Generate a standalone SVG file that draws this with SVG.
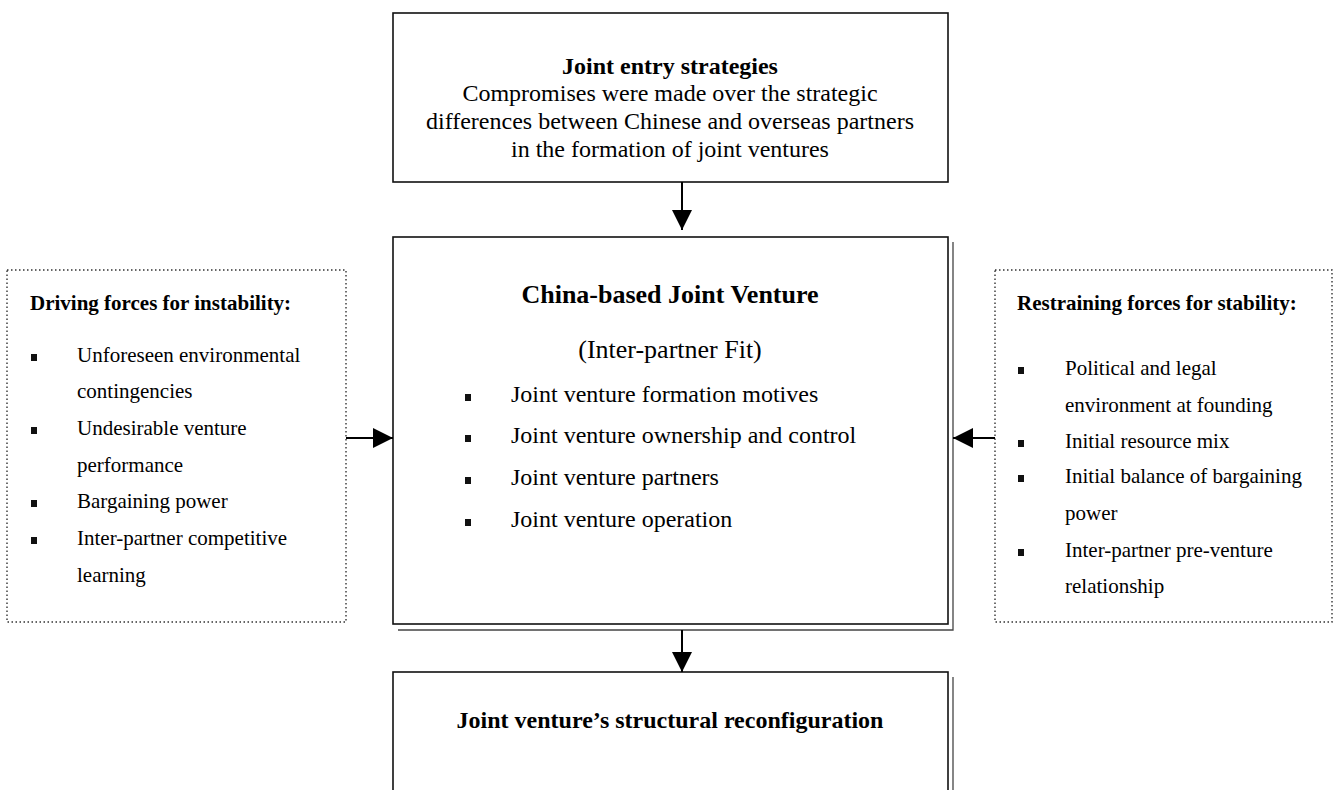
<svg xmlns="http://www.w3.org/2000/svg" width="1340" height="790" viewBox="0 0 1340 790">
<style>
text{font-family:"Liberation Serif","Times New Roman",serif;fill:#000}
.b{font-weight:bold}
.box{fill:#fff;stroke:#111;stroke-width:1.6}
.shadow{fill:none;stroke:#444;stroke-width:1.3}
.dot{fill:#fff;stroke:#333;stroke-width:1.4;stroke-dasharray:1.5 2.5}
.conn{fill:none;stroke:#000;stroke-width:2}
.bul{fill:#111}
</style>
<defs>
<marker id="ah" viewBox="0 0 20 20" refX="20" refY="10" markerWidth="20" markerHeight="20" markerUnits="userSpaceOnUse" orient="auto">
<path d="M0,0 L20,10 L0,20 Z" fill="#000"/>
</marker>
</defs>
<rect width="1340" height="790" fill="#fff"/>

<g id="top-box">
<rect class="box" x="393" y="13" width="555" height="169"/>
<text class="b" x="670" y="74" font-size="24" text-anchor="middle">Joint entry strategies</text>
<text x="670" y="101" font-size="24" text-anchor="middle">Compromises were made over the strategic</text>
<text x="670" y="129" font-size="24" text-anchor="middle">differences between Chinese and overseas partners</text>
<text x="670" y="157" font-size="24" text-anchor="middle">in the formation of joint ventures</text>
</g>

<g id="middle-box">
<path class="shadow" d="M398,630 H953 V242"/>
<rect class="box" x="393" y="237" width="555" height="387"/>
<text class="b" x="670" y="303" font-size="26" text-anchor="middle">China-based Joint Venture</text>
<text x="670" y="358" font-size="26" text-anchor="middle">(Inter-partner Fit)</text>
<rect class="bul" x="465" y="394" width="6" height="7"/>
<text x="511" y="402" font-size="24">Joint venture formation motives</text>
<rect class="bul" x="465" y="435" width="6" height="7"/>
<text x="511" y="443" font-size="24">Joint venture ownership and control</text>
<rect class="bul" x="465" y="477" width="6" height="7"/>
<text x="511" y="485" font-size="24">Joint venture partners</text>
<rect class="bul" x="465" y="519" width="6" height="7"/>
<text x="511" y="527" font-size="24">Joint venture operation</text>
</g>

<g id="left-box">
<rect class="dot" x="7" y="270" width="339" height="352"/>
<text class="b" x="30" y="310" font-size="21">Driving forces for instability:</text>
<rect class="bul" x="31" y="354" width="6" height="7"/>
<text x="77" y="362" font-size="21">Unforeseen environmental</text>
<text x="77" y="398" font-size="21">contingencies</text>
<rect class="bul" x="31" y="427" width="6" height="7"/>
<text x="77" y="435" font-size="21">Undesirable venture</text>
<text x="77" y="472" font-size="21">performance</text>
<rect class="bul" x="31" y="500" width="6" height="7"/>
<text x="77" y="508" font-size="21">Bargaining power</text>
<rect class="bul" x="31" y="537" width="6" height="7"/>
<text x="77" y="545" font-size="21">Inter-partner competitive</text>
<text x="77" y="582" font-size="21">learning</text>
</g>

<g id="right-box">
<rect class="dot" x="995" y="270" width="337" height="352"/>
<text class="b" x="1017" y="310" font-size="21">Restraining forces for stability:</text>
<rect class="bul" x="1018" y="367" width="6" height="7"/>
<text x="1065" y="375" font-size="21">Political and legal</text>
<text x="1065" y="412" font-size="21">environment at founding</text>
<rect class="bul" x="1018" y="440" width="6" height="7"/>
<text x="1065" y="448" font-size="21">Initial resource mix</text>
<rect class="bul" x="1018" y="475" width="6" height="7"/>
<text x="1065" y="483" font-size="21">Initial balance of bargaining</text>
<text x="1065" y="520" font-size="21">power</text>
<rect class="bul" x="1018" y="549" width="6" height="7"/>
<text x="1065" y="557" font-size="21">Inter-partner pre-venture</text>
<text x="1065" y="593" font-size="21">relationship</text>
</g>

<g id="bottom-box">
<path class="shadow" d="M953,677 V790"/>
<rect class="box" x="393" y="672" width="555" height="130"/>
<text class="b" x="670" y="728" font-size="24" text-anchor="middle">Joint venture’s structural reconfiguration</text>
</g>

<g id="connectors">
<path class="conn" d="M682,182 V230" marker-end="url(#ah)"/>
<path class="conn" d="M682,630 V672" marker-end="url(#ah)"/>
<path class="conn" d="M346,438 H393" marker-end="url(#ah)"/>
<path class="conn" d="M995,438 H953" marker-end="url(#ah)"/>
</g>
</svg>
